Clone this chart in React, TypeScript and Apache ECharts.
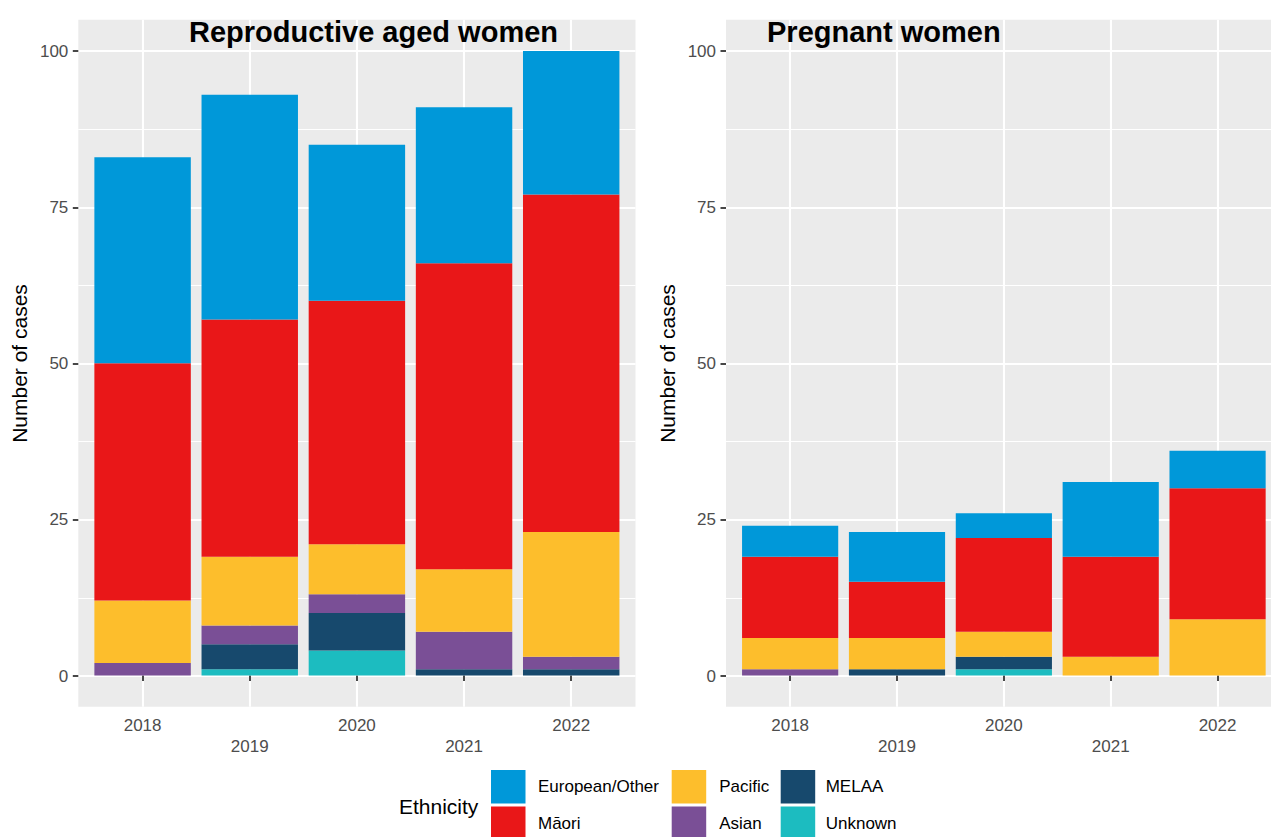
import React, { useEffect, useRef } from 'react';
import * as echarts from 'echarts';

// ---------- data ----------
const years = ['2018', '2019', '2020', '2021', '2022'];
const yTicks = [0, 25, 50, 75, 100];

const ethnicities = ['Unknown', 'MELAA', 'Asian', 'Pacific', 'Māori', 'European/Other'];
const ethnicityColors = ['#1cbcc0', '#17496d', '#7a4f96', '#fdbe2c', '#e91718', '#0098d9'];

// Reproductive aged women
const reproUnknown = [0, 1, 4, 0, 0];
const reproMELAA = [0, 4, 6, 1, 1];
const reproAsian = [2, 3, 3, 6, 2];
const reproPacific = [10, 11, 8, 10, 20];
const reproMaori = [38, 38, 39, 49, 54];
const reproEuropean = [33, 36, 25, 25, 23];

// Pregnant women
const pregUnknown = [0, 0, 1, 0, 0];
const pregMELAA = [0, 1, 2, 0, 0];
const pregAsian = [1, 0, 0, 0, 0];
const pregPacific = [5, 5, 4, 3, 9];
const pregMaori = [13, 9, 15, 16, 21];
const pregEuropean = [5, 8, 4, 12, 6];

const panelTitles = ['Reproductive aged women', 'Pregnant women'];
const yAxisTitle = 'Number of cases';
const legendTitle = 'Ethnicity';
const legendColumns = [
  ['European/Other', 'Māori'],
  ['Pacific', 'Asian'],
  ['MELAA', 'Unknown'],
];

const FONT = '"Liberation Sans", Arial, Helvetica, sans-serif';

function buildOption() {
  const panelData = [
    [reproUnknown, reproMELAA, reproAsian, reproPacific, reproMaori, reproEuropean],
    [pregUnknown, pregMELAA, pregAsian, pregPacific, pregMaori, pregEuropean],
  ];
  const panelLeft = [78.3, 726];
  const panelWidth = 557.2;
  const unit = panelWidth / 5.2;
  const panelTop = 19.75;
  const panelHeight = 687;
  const dataTop = 51;
  const dataHeight = 625;
  const yMin = yTicks[0];
  const yMax = yTicks[yTicks.length - 1];
  const yPad = (yMax - yMin) * 0.05;

  const grid: any[] = [];
  const xAxis: any[] = [];
  const yAxis: any[] = [];
  const series: any[] = [];

  panelData.forEach((arrs, p) => {
    const left = panelLeft[p];
    const gBg = grid.length;
    grid.push({ left, top: panelTop, width: panelWidth, height: panelHeight, show: true, backgroundColor: '#ebebeb', borderWidth: 0, z: 0 });
    xAxis.push({ type: 'value', gridIndex: gBg, show: false, min: 0, max: 1 });
    yAxis.push({ type: 'value', gridIndex: gBg, show: false, min: 0, max: 1 });

    const gLines = grid.length;
    grid.push({ left, top: dataTop, width: panelWidth, height: dataHeight });
    xAxis.push({ type: 'value', gridIndex: gLines, show: false, min: 0, max: 1 });
    yAxis.push({
      type: 'value',
      gridIndex: gLines,
      z: 1,
      min: yMin,
      max: yMax,
      interval: yTicks[1] - yTicks[0],
      name: yAxisTitle,
      nameLocation: 'middle',
      nameGap: 48,
      nameTextStyle: { fontSize: 21, color: '#000', fontFamily: FONT },
      axisLine: { show: false },
      axisTick: { show: true, length: 5.5, lineStyle: { color: '#333', width: 1.8 } },
      axisLabel: { fontSize: 17, color: '#4d4d4d', margin: 10, fontFamily: FONT },
      splitLine: { show: true, lineStyle: { color: '#ffffff', width: 2.1 } },
      minorTick: { show: false, splitNumber: 2 },
      minorSplitLine: { show: true, lineStyle: { color: '#ffffff', width: 1 } },
    });

    const gBars = grid.length;
    grid.push({ left: left + unit * 0.1, top: panelTop, width: unit * 5, height: panelHeight });
    xAxis.push({
      type: 'category',
      gridIndex: gBars,
      z: 1,
      data: years,
      boundaryGap: true,
      axisLine: { show: false },
      axisTick: { show: true, alignWithLabel: true, length: 5.5, lineStyle: { color: '#333', width: 1.8 } },
      axisLabel: {
        interval: 0,
        fontSize: 17,
        color: '#4d4d4d',
        margin: 7.5,
        lineHeight: 21.7,
        fontFamily: FONT,
        formatter: (v: string, i: number) => (i % 2 ? '\n' + v : v),
      },
      splitLine: { show: true, alignWithLabel: true, interval: 0, lineStyle: { color: '#ffffff', width: 2.1 } },
    });
    yAxis.push({
      type: 'value',
      gridIndex: gBars,
      show: false,
      min: yMin - yPad,
      max: yMax + yPad,
    });

    arrs.forEach((vals, k) => {
      series.push({
        type: 'bar',
        name: ethnicities[k],
        stack: 'panel' + p,
        xAxisIndex: gBars,
        yAxisIndex: gBars,
        barWidth: '90%',
        data: vals,
        itemStyle: { color: ethnicityColors[k] },
        silent: true,
        emphasis: { disabled: true },
      });
    });
  });

  const legendLefts = [491, 671.7, 780.7];
  const legendPads = [7.5, 8, 5.5];
  const legend = legendColumns.map((col, i) => ({
    orient: 'vertical',
    left: legendLefts[i],
    top: 770,
    height: 90,
    padding: 0,
    itemWidth: 34.5,
    itemHeight: 33.5,
    itemGap: 3,
    icon: 'rect',
    selectedMode: false,
    data: col,
    textStyle: { fontSize: 17, color: '#000', fontFamily: FONT, padding: [0, 0, 0, legendPads[i]] },
  }));

  const titleX = [189, 767];
  const graphic: any[] = panelTitles.map((t, i) => ({
    type: 'text',
    x: titleX[i],
    y: 32,
    z: 10,
    style: { text: t, fontSize: 29, fontWeight: 'bold', fontFamily: FONT, fill: '#000', align: 'left', verticalAlign: 'middle' },
  }));
  graphic.push({
    type: 'text',
    x: 399,
    y: 806,
    style: { text: legendTitle, fontSize: 21, fontFamily: FONT, fill: '#000', align: 'left', verticalAlign: 'middle' },
  });

  return {
    animation: false,
    backgroundColor: '#ffffff',
    textStyle: { fontFamily: FONT },
    grid,
    xAxis,
    yAxis,
    series,
    legend,
    graphic,
  };
}

export default function App() {
  const ref = useRef<HTMLDivElement>(null);
  useEffect(() => {
    if (!ref.current) return;
    const chart = echarts.init(ref.current, undefined, { renderer: 'svg' });
    chart.setOption(buildOption() as any);
    return () => chart.dispose();
  }, []);
  return (
    <div
      ref={ref}
      style={{ position: 'absolute', left: 0, top: 0, width: 1271, height: 837 }}
    />
  );
}
